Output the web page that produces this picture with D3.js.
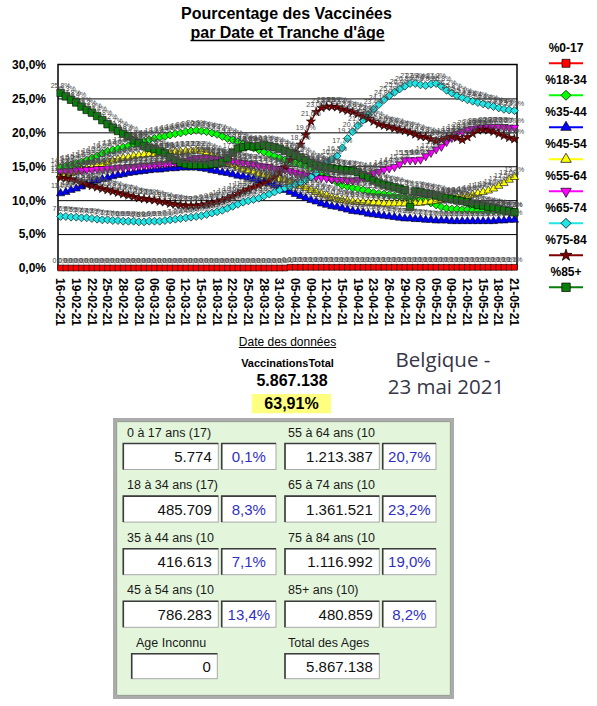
<!DOCTYPE html>
<html><head><meta charset="utf-8">
<script src="https://cdn.jsdelivr.net/npm/d3@7"></script>
<style>body{margin:0;background:#fff}svg{display:block}</style>
</head><body>
<svg id="c" width="597" height="706"></svg>
<script>
// ---------- DATA ----------
const dates = [
"16-02-21","17-02-21","18-02-21","19-02-21","20-02-21","21-02-21","22-02-21","23-02-21","24-02-21","25-02-21",
"26-02-21","27-02-21","28-02-21","01-03-21","02-03-21","03-03-21","04-03-21","05-03-21","06-03-21","07-03-21",
"08-03-21","09-03-21","10-03-21","11-03-21","12-03-21","13-03-21","14-03-21","15-03-21","16-03-21","17-03-21",
"18-03-21","19-03-21","20-03-21","22-03-21","23-03-21","24-03-21","25-03-21","26-03-21","27-03-21","28-03-21",
"29-03-21","30-03-21","31-03-21","01-04-21","02-04-21","05-04-21","06-04-21","07-04-21","09-04-21","10-04-21",
"11-04-21","12-04-21","13-04-21","14-04-21","15-04-21","16-04-21","17-04-21","19-04-21","20-04-21","21-04-21",
"23-04-21","24-04-21","25-04-21","26-04-21","27-04-21","28-04-21","29-04-21","30-04-21","01-05-21","02-05-21",
"03-05-21","04-05-21","05-05-21","06-05-21","07-05-21","09-05-21","10-05-21","11-05-21","12-05-21","13-05-21",
"14-05-21","15-05-21","16-05-21","17-05-21","18-05-21","19-05-21","20-05-21","21-05-21"];
const tickLabels = ["16-02-21","19-02-21","22-02-21","25-02-21","28-02-21","03-03-21","06-03-21","09-03-21","12-03-21","15-03-21",
"18-03-21","22-03-21","25-03-21","28-03-21","31-03-21","05-04-21","09-04-21","12-04-21","15-04-21","19-04-21",
"23-04-21","26-04-21","29-04-21","02-05-21","05-05-21","09-05-21","12-05-21","15-05-21","18-05-21","21-05-21"];
const yTicks = [0,5,10,15,20,25,30];

const seriesNames = ["%0-17","%18-34","%35-44","%45-54","%55-64","%65-74","%75-84","%85+"];

const pct0_17 = [
0.0,0.0,0.0,0.0,0.0,0.0,0.0,0.0,0.0,0.0, 0.0,0.0,0.0,0.0,0.0,0.0,0.0,0.0,0.0,0.0,
0.0,0.0,0.0,0.0,0.0,0.0,0.0,0.0,0.0,0.0, 0.0,0.0,0.0,0.0,0.0,0.0,0.0,0.0,0.0,0.0,
0.0,0.0,0.0,0.0,0.1,0.1,0.1,0.1,0.1,0.1, 0.1,0.1,0.1,0.1,0.1,0.1,0.1,0.1,0.1,0.1,
0.1,0.1,0.1,0.1,0.1,0.1,0.1,0.1,0.1,0.1, 0.1,0.1,0.1,0.1,0.1,0.1,0.1,0.1,0.1,0.1,
0.1,0.1,0.1,0.1,0.1,0.1,0.1,0.1];
const pct18_34 = [
14.8,15.0,15.2,15.4,15.6,15.9,16.2,16.5,16.9,17.2, 17.4,17.6,17.8,18.0,18.3,18.5,18.7,18.9,19.1,19.3,
19.4,19.6,19.8,19.9,20.1,20.2,20.3,20.2,20.1,19.9, 19.7,19.4,19.1,18.9,18.6,18.3,18.0,17.7,17.4,17.1,
16.8,16.5,16.2,15.9,15.7,15.5,15.3,15.1,14.8,14.4, 14.0,13.5,13.0,12.6,12.2,12.0,11.8,11.7,11.5,11.3,
11.1,11.0,10.9,10.8,10.6,10.5,10.4,10.3,10.2,10.1, 10.0,9.6,9.3,9.0,8.8,8.7,8.7,8.6,8.6,8.5,
8.5,8.5,8.4,8.4,8.4,8.3,8.3,8.3];
const pct35_44 = [
11.0,11.2,11.5,11.7,12.0,12.3,12.6,12.9,13.1,13.3, 13.5,13.7,13.8,14.0,14.1,14.2,14.3,14.4,14.5,14.5,
14.6,14.7,14.7,14.8,14.8,14.8,14.8,14.7,14.6,14.4, 14.3,14.1,14.0,13.8,13.6,13.5,13.3,13.1,12.9,12.7,
12.5,12.2,11.9,11.5,11.2,10.9,10.6,10.3,10.0,9.8, 9.5,9.3,9.1,9.0,8.8,8.6,8.4,8.3,8.2,8.0,
7.9,7.8,7.7,7.6,7.5,7.4,7.3,7.3,7.2,7.2, 7.1,7.1,7.0,7.0,7.0,6.9,6.9,6.9,6.9,6.9,
6.9,6.9,6.9,6.9,7.0,7.0,7.1,7.1];
const pct45_54 = [
13.6,13.8,14.0,14.2,14.4,14.6,14.8,15.1,15.3,15.6, 15.8,16.0,16.2,16.3,16.5,16.6,16.7,16.8,16.8,16.9,
17.0,17.0,17.1,17.1,17.2,17.2,17.3,17.2,17.0,16.6, 16.2,15.7,15.4,15.2,14.9,14.6,14.4,14.2,13.9,13.7,
13.5,13.3,13.1,13.0,12.7,12.4,12.1,11.8,11.5,11.2, 10.9,10.7,10.4,10.2,10.0,9.9,9.8,9.7,9.7,9.6,
9.6,9.6,9.5,9.5,9.5,9.5,9.5,9.5,9.6,9.6, 9.7,9.8,9.9,10.0,10.1,10.3,10.4,10.5,10.6,10.8,
11.0,11.2,11.4,11.7,12.1,12.5,13.0,13.4];
const pct55_64 = [
14.2,14.3,14.3,14.4,14.4,14.5,14.5,14.6,14.6,14.7, 14.7,14.8,14.8,14.9,14.9,15.0,15.1,15.1,15.2,15.3,
15.3,15.4,15.5,15.6,15.8,16.0,16.2,16.3,16.3,16.2, 16.1,16.0,15.9,15.8,15.6,15.5,15.4,15.3,15.1,15.0,
14.9,14.7,14.6,14.5,14.3,14.1,13.9,13.7,13.6,13.4, 13.3,13.2,13.1,13.0,13.0,12.9,12.9,13.0,13.3,13.7,
14.0,14.2,14.5,14.7,14.9,15.3,15.9,15.9,15.9,16.0, 16.5,17.0,17.5,17.9,18.6,19.2,19.8,20.1,20.4,20.5,
20.6,20.7,20.8,20.8,20.8,20.8,20.7,20.7];
const pct65_74 = [
7.6,7.6,7.5,7.5,7.4,7.4,7.3,7.2,7.1,7.1, 7.0,7.0,6.9,6.9,6.9,6.8,6.8,6.9,6.9,6.9,
7.0,7.1,7.2,7.3,7.4,7.5,7.6,7.7,7.9,8.1, 8.3,8.5,8.8,9.1,9.4,9.7,9.9,10.1,10.3,10.6,
10.9,11.2,11.5,11.8,12.0,12.3,12.6,13.0,13.4,14.0, 14.8,15.5,16.0,16.5,17.7,19.1,20.1,21.0,21.8,22.6,
23.4,24.1,24.8,25.4,25.9,26.4,26.8,27.2,27.2,27.0, 26.9,27.1,27.2,26.8,26.2,25.8,25.4,25.1,24.8,24.6,
24.4,24.2,24.0,23.8,23.6,23.4,23.3,23.2];
const pct75_84 = [
13.3,13.2,13.1,12.9,12.6,12.3,12.1,11.9,11.7,11.5, 11.3,11.1,10.9,10.7,10.5,10.3,10.2,10.1,10.0,9.8,
9.7,9.5,9.4,9.3,9.2,9.2,9.2,9.3,9.4,9.6, 9.8,10.0,10.3,10.6,11.0,11.3,11.6,11.9,12.2,12.5,
12.9,13.4,14.0,14.9,15.9,17.0,18.2,19.6,21.6,23.0, 23.6,23.8,23.8,23.7,23.4,23.2,23.0,22.7,22.4,22.0,
21.6,21.2,21.0,20.8,20.6,20.4,20.2,20.0,19.7,19.4, 19.3,19.0,18.7,18.9,19.2,19.4,19.2,18.9,19.3,19.8,
20.3,20.4,20.3,20.1,19.8,19.5,19.2,19.0];
const pct85plus = [
25.8,25.3,24.8,24.4,23.8,23.3,22.9,22.4,21.8,21.2, 20.7,20.2,19.8,19.4,18.8,18.4,18.0,17.7,17.5,17.2,
16.9,16.4,15.9,15.5,15.3,15.2,15.2,15.2,15.2,15.3, 15.4,15.6,16.2,17.0,17.6,17.8,18.0,17.9,18.0,18.1,
18.0,17.8,17.6,17.3,17.0,16.6,16.3,15.9,15.5,15.2, 15.0,14.8,14.7,14.6,14.5,14.4,14.3,14.1,13.7,13.3,
12.9,12.6,12.3,12.1,11.9,11.7,11.5,9.0,11.3,11.2, 11.0,10.9,10.7,10.5,10.3,10.2,10.0,9.9,9.7,9.5,
9.3,9.2,9.0,8.9,8.7,8.5,8.4,8.2];
const seriesValues = [pct0_17,pct18_34,pct35_44,pct45_54,pct55_64,pct65_74,pct75_84,pct85plus];

const totalLabel = "VaccinationsTotal";
const totalValue = "5.867.138";
const totalPct = "63,91%";
const placeLines = ["Belgique -","23 mai 2021"];

const groupLabels = ["0 à 17 ans (17)","18 à 34 ans (17)","35 à 44 ans (10","45 à 54 ans (10",
                     "55 à 64 ans (10","65 à 74 ans (10","75 à 84 ans (10","85+ ans (10)"];
const groupCounts = ["5.774","485.709","416.613","786.283","1.213.387","1.361.521","1.116.992","480.859"];
const groupPcts = ["0,1%","8,3%","7,1%","13,4%","20,7%","23,2%","19,0%","8,2%"];
const extraLabels = ["Age Inconnu","Total des Ages"];
const extraValues = ["0","5.867.138"];

// ---------- STYLE ----------
const colors = ["#ff0000","#00ff00","#0000ff","#ffff00","#ff00ff","#1ee6e6","#800000","#0a7d0a"];
const FONT = "'Liberation Sans', Arial, Helvetica, sans-serif";
const svg = d3.select("#c");
const P = {l:58, r:517, t:64.5, b:269};

const x = d3.scaleBand().domain(dates).range([P.l, P.r]);
const cx = d => x(d) + x.bandwidth()/2;
const y = d3.scaleLinear().domain([0,30]).range([P.b-1, P.t]);
const fmt = v => v.toFixed(1).replace('.', ',') + '%';

// title
svg.append("text").attr("x",286.5).attr("y",19).attr("text-anchor","middle")
  .style("font",`bold 16px ${FONT}`).text("Pourcentage des Vaccinées");
const t2 = svg.append("text").attr("x",287.5).attr("y",37.5).attr("text-anchor","middle")
  .style("font",`bold 16px ${FONT}`).text("par Date et Tranche d'âge");
{ const w = t2.node().getComputedTextLength();
  svg.append("line").attr("x1",287.5-w/2).attr("x2",287.5+w/2).attr("y1",40.5).attr("y2",40.5)
    .attr("stroke","#000").attr("stroke-width",1.3); }

// plot bg + gridlines + frame (under the marks)
svg.append("rect").attr("x",P.l).attr("y",P.t).attr("width",P.r-P.l).attr("height",P.b-P.t).attr("fill","#fff");
svg.append("g").attr("transform",`translate(${P.l},0)`)
  .call(d3.axisLeft(y).tickValues(yTicks.slice(1,-1)).tickSize(-(P.r-P.l)).tickFormat(""))
  .call(g=>g.select(".domain").remove())
  .call(g=>g.selectAll("line").attr("stroke","#000").attr("stroke-width",1));
svg.append("rect").attr("x",P.l).attr("y",P.t).attr("width",P.r-P.l).attr("height",P.b-P.t)
  .attr("fill","none").attr("stroke","#000").attr("stroke-width",1.5);

// y axis labels
svg.append("g").attr("transform",`translate(${P.l},0)`)
  .call(d3.axisLeft(y).tickValues(yTicks).tickSize(0).tickPadding(12).tickFormat(fmt))
  .call(g=>g.select(".domain").remove())
  .call(g=>g.selectAll("text").style("font",`bold 12px ${FONT}`).attr("fill","#000"));

// x axis labels
svg.append("g").attr("transform",`translate(0,${P.b})`)
  .call(d3.axisBottom(x).tickValues(tickLabels).tickSize(0))
  .call(g=>g.select(".domain").remove())
  .call(g=>g.selectAll("text").attr("transform","rotate(90)").attr("x",9).attr("y",0)
     .attr("dy","0.36em").style("text-anchor","start").style("font",`bold 12px ${FONT}`).attr("fill","#000"));

// symbols
function sym(k, big){
  const sizes = big ? [64,50,48,48,48,50,44,72] : [34,32,30,30,30,32,26,56];
  const types = [d3.symbolSquare,d3.symbolSquare,d3.symbolTriangle,d3.symbolTriangle,d3.symbolTriangle,d3.symbolSquare,d3.symbolStar,d3.symbolSquare];
  const rot = [0,45,0,0,180,45,0,0];
  return {path: d3.symbol().type(types[k]).size(sizes[k])(), rot: rot[k]};
}

// series
const line = d3.line().x((v,i)=>cx(dates[i])).y(v=>y(v));
seriesValues.forEach((vals,k)=>{
  const g = svg.append("g");
  g.append("path").attr("d",line(vals)).attr("fill","none").attr("stroke",colors[k]).attr("stroke-width",1.5);
  const s = sym(k,false);
  g.selectAll("path.m").data(vals).join("path").attr("class","m").attr("d",s.path)
    .attr("transform",(v,i)=>`translate(${cx(dates[i])},${y(v)}) rotate(${s.rot})`)
    .attr("fill",colors[k]).attr("stroke","#000").attr("stroke-width",0.6);
});

// data labels
const lg = svg.append("g").style("font",`7px ${FONT}`).attr("fill","#4a4a4a").attr("text-anchor","middle");
seriesValues.forEach(vals=>{
  lg.append("g").selectAll("text").data(vals).join("text")
    .attr("x",(v,i)=>cx(dates[i])).attr("y",v=>y(v)-5).text(fmt);
});

// legend
seriesNames.forEach((n,k)=>{
  const ty = 47.3 + k*32, my = 63.3 + k*32;
  svg.append("text").attr("x",566).attr("y",ty+4.3).attr("text-anchor","middle")
    .style("font",`bold 12px ${FONT}`).text(n);
  svg.append("line").attr("x1",549).attr("x2",583).attr("y1",my).attr("y2",my)
    .attr("stroke",colors[k]).attr("stroke-width",2);
  const s = sym(k,true);
  svg.append("path").attr("d",s.path).attr("transform",`translate(566,${my}) rotate(${s.rot})`)
    .attr("fill",colors[k]).attr("stroke","#000").attr("stroke-width",0.7);
});

// x title
const xt = svg.append("text").attr("x",287.5).attr("y",345.5).attr("text-anchor","middle")
  .style("font",`12px ${FONT}`).text("Date des données");
{ const w = xt.node().getComputedTextLength();
  svg.append("line").attr("x1",287.5-w/2).attr("x2",287.5+w/2).attr("y1",347.5).attr("y2",347.5)
    .attr("stroke","#000").attr("stroke-width",1); }

// totals
svg.append("text").attr("x",287.5).attr("y",367).attr("text-anchor","middle")
  .style("font",`bold 11px ${FONT}`).text(totalLabel);
svg.append("text").attr("x",292).attr("y",386).attr("text-anchor","middle")
  .style("font",`bold 16px ${FONT}`).text(totalValue);
svg.append("rect").attr("x",251.7).attr("y",394).attr("width",79.3).attr("height",19.3).attr("fill","#ffff80");
svg.append("text").attr("x",291.5).attr("y",409).attr("text-anchor","middle")
  .style("font",`bold 16px ${FONT}`).text(totalPct);

svg.append("text").attr("x",443).attr("y",367).attr("text-anchor","middle")
  .style("font","20.5px 'Open Sans', 'DejaVu Sans', sans-serif").attr("fill","#363646").text(placeLines[0]);
svg.append("text").attr("x",446).attr("y",393.5).attr("text-anchor","middle")
  .style("font","20.5px 'Open Sans', 'DejaVu Sans', sans-serif").attr("fill","#363646").text(placeLines[1]);

// panel
svg.append("rect").attr("x",114.5).attr("y",419.5).attr("width",338).attr("height",278)
  .attr("fill","#e3f6dc").attr("stroke","#ababab").attr("stroke-width",3);
svg.append("rect").attr("x",116.7).attr("y",421.7).attr("width",333.6).attr("height",273.6)
  .attr("fill","none").attr("stroke","#7d7d7d").attr("stroke-width",0.8);

function box(x0,y0,w,h){
  svg.append("rect").attr("x",x0).attr("y",y0).attr("width",w).attr("height",h)
    .attr("fill","#fff").attr("stroke","#a8a8a8").attr("stroke-width",1);
  svg.append("path").attr("d",`M${x0},${y0+h} V${y0} H${x0+w}`).attr("fill","none")
    .attr("stroke","#3c3c3c").attr("stroke-width",1.6);
}
const colLabelX=[127,288], colValX=[123.3,285], colValW=[95,94.3], colPctX=[221.7,382.7], colPctW=[54.3,53.3];
groupLabels.forEach((lab,k)=>{
  const c = k<4?0:1, r = k%4;
  const top = 443.5 + r*52.6;
  svg.append("text").attr("x",colLabelX[c]).attr("y",top-7).style("font",`12.5px ${FONT}`).attr("fill","#1a1a1a").text(lab);
  box(colValX[c],top,colValW[c],26);
  svg.append("text").attr("x",colValX[c]+colValW[c]-6.5).attr("y",top+18.5).attr("text-anchor","end")
    .style("font",`15px ${FONT}`).attr("fill","#111").text(groupCounts[k]);
  box(colPctX[c],top,colPctW[c],26);
  svg.append("text").attr("x",colPctX[c]+colPctW[c]/2).attr("y",top+18.5).attr("text-anchor","middle")
    .style("font",`15px ${FONT}`).attr("fill","#3030c0").text(groupPcts[k]);
});
const exLabelX=[136,288], exBoxX=[131.7,285], exBoxW=[85.6,94.3];
extraLabels.forEach((lab,k)=>{
  svg.append("text").attr("x",exLabelX[k]).attr("y",646.5).style("font",`12.5px ${FONT}`).attr("fill","#1a1a1a").text(lab);
  box(exBoxX[k],653.7,exBoxW[k],25);
  svg.append("text").attr("x",exBoxX[k]+exBoxW[k]-6.5).attr("y",671.5).attr("text-anchor","end")
    .style("font",`15px ${FONT}`).attr("fill","#111").text(extraValues[k]);
});
</script>
</body></html>
